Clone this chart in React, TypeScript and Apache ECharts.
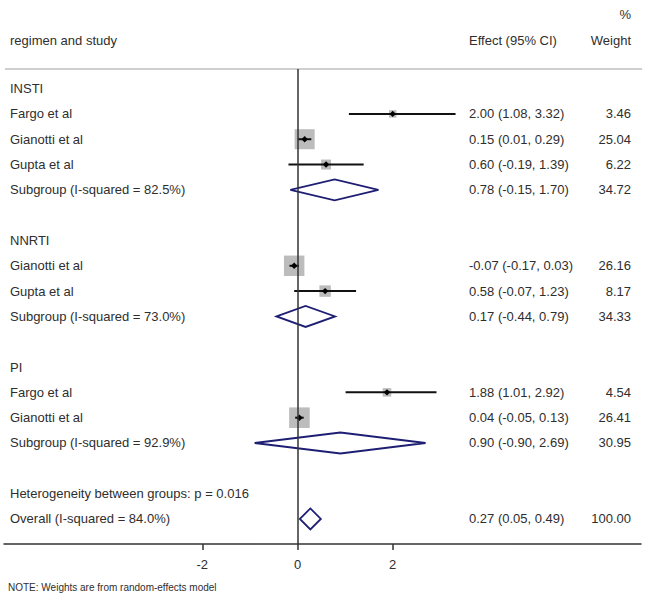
import React, { useEffect, useRef } from "react";
import * as echarts from "echarts";

// ---- data ----
const rowLabels = [
  "INSTI",
  "Fargo et al",
  "Gianotti et al",
  "Gupta et al",
  "Subgroup (I-squared = 82.5%)",
  "",
  "NNRTI",
  "Gianotti et al",
  "Gupta et al",
  "Subgroup (I-squared = 73.0%)",
  "",
  "PI",
  "Fargo et al",
  "Gianotti et al",
  "Subgroup (I-squared = 92.9%)",
  "",
  "Heterogeneity between groups: p = 0.016",
  "Overall (I-squared = 84.0%)",
];
// kind: h = header/text only, s = study, d = pooled (diamond)
const rowKinds = ["h", "s", "s", "s", "d", "h", "h", "s", "s", "d", "h", "h", "s", "s", "d", "h", "h", "d"];
const estimates = [null, 2.0, 0.15, 0.6, 0.78, null, null, -0.07, 0.58, 0.17, null, null, 1.88, 0.04, 0.9, null, null, 0.27];
const lowerCI = [null, 1.08, 0.01, -0.19, -0.15, null, null, -0.17, -0.07, -0.44, null, null, 1.01, -0.05, -0.9, null, null, 0.05];
const upperCI = [null, 3.32, 0.29, 1.39, 1.7, null, null, 0.03, 1.23, 0.79, null, null, 2.92, 0.13, 2.69, null, null, 0.49];
const weights = [null, 3.46, 25.04, 6.22, 34.72, null, null, 26.16, 8.17, 34.33, null, null, 4.54, 26.41, 30.95, null, null, 100.0];
const tickValues = [-2, 0, 2];

const TEXT = "#2e2e2e";
const FONT = "'Liberation Sans', Arial, Helvetica, sans-serif";

function fmtEffect(i: number): string {
  const e = estimates[i];
  if (e === null) return "";
  return `${(e as number).toFixed(2)} (${(lowerCI[i] as number).toFixed(2)}, ${(upperCI[i] as number).toFixed(2)})`;
}
function fmtWeight(i: number): string {
  const w = weights[i];
  return w === null ? "" : (w as number).toFixed(2);
}

export default function App() {
  const ref = useRef<HTMLDivElement>(null);
  useEffect(() => {
    document.body.style.margin = "0";
    const chart = echarts.init(ref.current!, null, { renderer: "svg" });

    const studyData: number[][] = [];
    const poolData: number[][] = [];
    rowKinds.forEach((k, i) => {
      if (k === "s") studyData.push([i, estimates[i] as number, lowerCI[i] as number, upperCI[i] as number, weights[i] as number]);
      if (k === "d") poolData.push([i, estimates[i] as number, lowerCI[i] as number, upperCI[i] as number, weights[i] as number]);
    });
    const textData = rowLabels.map((_, i) => [0, i]);

    const option: any = {
      animation: false,
      backgroundColor: "#ffffff",
      textStyle: { fontFamily: FONT },
      grid: { left: 4, right: 9, top: 69, height: 475 },
      xAxis: {
        type: "value",
        position: "bottom",
        min: -6.166,
        max: 7.216,
        splitLine: { show: false },
        axisLine: { show: true, onZero: false, lineStyle: { color: "#333", width: 1.5 } },
        axisTick: { show: true, customValues: tickValues, length: 6, lineStyle: { color: "#333", width: 1.5 } },
        axisLabel: { customValues: tickValues, color: TEXT, fontSize: 13, margin: 14, fontFamily: FONT },
      },
      yAxis: { type: "value", inverse: true, min: -0.774, max: 17.99, show: false },
      series: [
        {
          type: "custom",
          name: "texts",
          data: textData,
          encode: { x: 0, y: 1 },
          renderItem: (params: any, api: any) => {
            const i = params.dataIndex;
            const y = api.coord([0, i])[1];
            return {
              type: "group",
              children: [
                { type: "text", x: 10, y, style: { text: rowLabels[i], fill: TEXT, font: `13px ${FONT}`, textAlign: "left", textVerticalAlign: "middle" } },
                { type: "text", x: 469, y, style: { text: fmtEffect(i), fill: TEXT, font: `13px ${FONT}`, textAlign: "left", textVerticalAlign: "middle" } },
                { type: "text", x: 631, y, style: { text: fmtWeight(i), fill: TEXT, font: `13px ${FONT}`, textAlign: "right", textVerticalAlign: "middle" } },
              ],
            };
          },
          markLine: {
            silent: true,
            symbol: "none",
            label: { show: false },
            lineStyle: { color: "#333", width: 1.5, type: "solid" },
            data: [{ xAxis: 0 }],
          },
        },
        {
          type: "custom",
          name: "studies",
          data: studyData,
          encode: { x: [1, 2, 3], y: 0 },
          renderItem: (params: any, api: any) => {
            const row = api.value(0);
            const [cx, cy] = api.coord([api.value(1), row]);
            const xl = api.coord([api.value(2), row])[0];
            const xh = api.coord([api.value(3), row])[0];
            const s = 4 * Math.sqrt(api.value(4));
            return {
              type: "group",
              children: [
                { type: "rect", shape: { x: cx - s / 2, y: cy - s / 2, width: s, height: s }, style: { fill: "#bcbcbc" } },
                { type: "line", shape: { x1: xl, y1: cy, x2: xh, y2: cy }, style: { stroke: "#111", lineWidth: 2 } },
                { type: "polygon", shape: { points: [[cx - 3.2, cy], [cx, cy - 3.2], [cx + 3.2, cy], [cx, cy + 3.2]] }, style: { fill: "#000" } },
              ],
            };
          },
        },
        {
          type: "custom",
          name: "pooled",
          data: poolData,
          encode: { x: [1, 2, 3], y: 0 },
          renderItem: (params: any, api: any) => {
            const row = api.value(0);
            const [cx, cy] = api.coord([api.value(1), row]);
            const xl = api.coord([api.value(2), row])[0];
            const xh = api.coord([api.value(3), row])[0];
            const h = 10.5;
            return {
              type: "polygon",
              shape: { points: [[xl, cy], [cx, cy - h], [xh, cy], [cx, cy + h]] },
              style: { fill: "none", stroke: "#1e1e74", lineWidth: 1.8, lineJoin: "miter" },
            };
          },
        },
      ],
      graphic: [
        { type: "line", shape: { x1: 5, y1: 69, x2: 642, y2: 69 }, style: { stroke: "#cfcfcf", lineWidth: 2 }, z: 0 },
        { type: "text", x: 631, y: 14, style: { text: "%", fill: TEXT, font: `13px ${FONT}`, textAlign: "right", textVerticalAlign: "middle" } },
        { type: "text", x: 10, y: 40, style: { text: "regimen and study", fill: TEXT, font: `13px ${FONT}`, textAlign: "left", textVerticalAlign: "middle" } },
        { type: "text", x: 469, y: 40, style: { text: "Effect (95% CI)", fill: TEXT, font: `13px ${FONT}`, textAlign: "left", textVerticalAlign: "middle" } },
        { type: "text", x: 631, y: 40, style: { text: "Weight", fill: TEXT, font: `13px ${FONT}`, textAlign: "right", textVerticalAlign: "middle" } },
        { type: "text", x: 8, y: 587, style: { text: "NOTE: Weights are from random-effects model", fill: TEXT, font: `10px ${FONT}`, textAlign: "left", textVerticalAlign: "middle" } },
      ],
    };
    chart.setOption(option);
    return () => chart.dispose();
  }, []);
  return <div ref={ref} style={{ width: 650, height: 601 }} />;
}
